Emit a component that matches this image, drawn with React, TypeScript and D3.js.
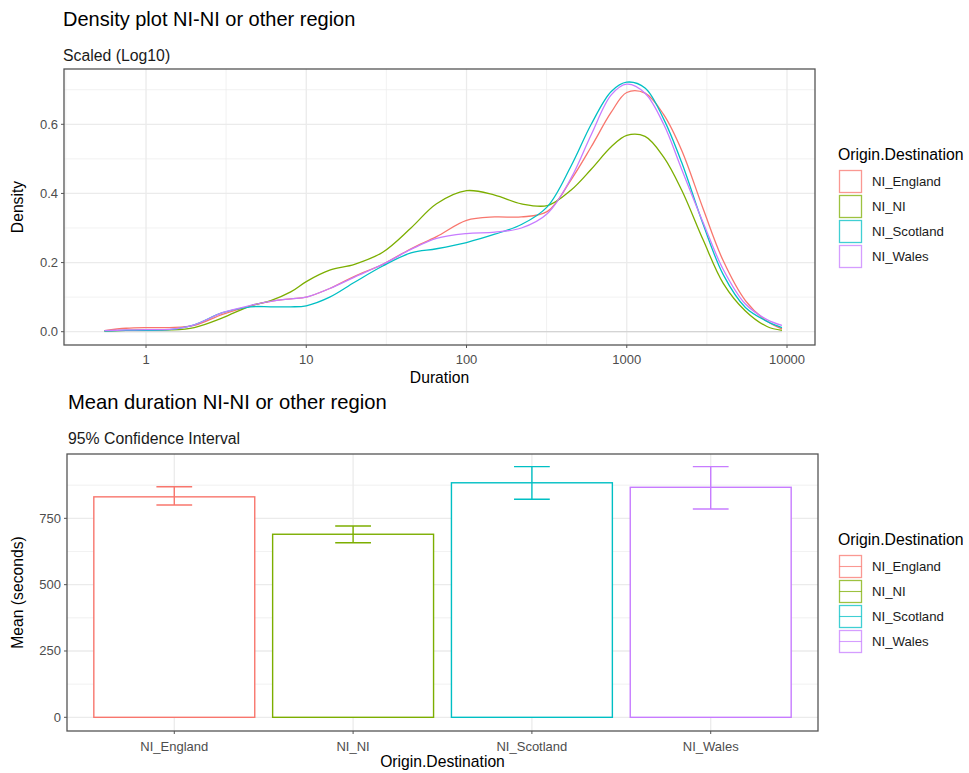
import * as d3 from "d3";

// series and categories
const origins = ["NI_England", "NI_NI", "NI_Scotland", "NI_Wales"];
const colors = ["#F8766D", "#7CAE00", "#00BFC4", "#C77CFF"];

// density curves (x = duration in seconds, log scale)
const durations = [0.55, 0.75, 1, 1.4, 2, 3, 4.5, 6, 8, 10, 14, 20, 30, 45, 65, 100, 150, 220, 320, 450, 600, 800, 1000, 1300, 1700, 2200, 3000, 4000, 5500, 7500, 9300];
const densityEngland = [0.003, 0.01, 0.012, 0.012, 0.018, 0.05, 0.075, 0.088, 0.095, 0.1, 0.125, 0.16, 0.195, 0.24, 0.275, 0.322, 0.332, 0.332, 0.348, 0.44, 0.535, 0.635, 0.692, 0.69, 0.628, 0.525, 0.355, 0.205, 0.09, 0.03, 0.008];
const densityNI = [0.002, 0.004, 0.005, 0.005, 0.012, 0.04, 0.075, 0.09, 0.115, 0.145, 0.178, 0.195, 0.23, 0.3, 0.37, 0.408, 0.395, 0.37, 0.365, 0.41, 0.47, 0.535, 0.568, 0.565, 0.505, 0.41, 0.265, 0.14, 0.06, 0.015, 0.004];
const densityScotland = [0.002, 0.004, 0.004, 0.006, 0.02, 0.055, 0.072, 0.072, 0.072, 0.075, 0.1, 0.143, 0.19, 0.228, 0.24, 0.258, 0.282, 0.31, 0.362, 0.48, 0.6, 0.695, 0.722, 0.705, 0.615, 0.49, 0.31, 0.165, 0.07, 0.03, 0.012];
const densityWales = [0.003, 0.005, 0.006, 0.007, 0.02, 0.055, 0.076, 0.088, 0.095, 0.1, 0.125, 0.158, 0.195, 0.238, 0.27, 0.284, 0.288, 0.3, 0.342, 0.445, 0.57, 0.685, 0.716, 0.69, 0.6, 0.47, 0.315, 0.18, 0.08, 0.035, 0.018];
const densities = [densityEngland, densityNI, densityScotland, densityWales];

// mean duration with 95% CI
const meanSeconds = [831, 690, 884, 867];
const ciLower = [800, 658, 822, 785];
const ciUpper = [869, 721, 945, 945];

const durationTicks = [1, 10, 100, 1000, 10000];
const durationMinor = [0.316, 3.16, 31.6, 316, 3162];
const densityTicks = [0, 0.2, 0.4, 0.6];
const densityMinor = [0.1, 0.3, 0.5, 0.7];
const meanTicks = [0, 250, 500, 750];
const meanMinor = [125, 375, 625, 875];

const font = "'Liberation Sans', Arial, sans-serif";
const gridColor = "#ebebeb";
const tickText = "#4d4d4d";

// top panel geometry
const top1 = { left: 64, right: 815, top: 69, bottom: 345 };
// bottom panel geometry
const top2 = { left: 67, right: 818, top: 454, bottom: 731 };

const Legend = ({ x, y, withLine }: { x: number; y: number; withLine: boolean }) => (
  <g transform={`translate(${x},${y})`}>
    <text x={0} y={0} fontSize={15.8} fill="#000">Origin.Destination</text>
    {origins.map((o, i) => (
      <g key={o} transform={`translate(1,${10 + i * 25})`}>
        <rect x={0.5} y={0.5} width={22} height={22} fill="#fff" stroke={colors[i]} strokeWidth={1.3} strokeOpacity={0.75} />
        {withLine && <line x1={0.5} x2={22.5} y1={11.5} y2={11.5} stroke={colors[i]} strokeWidth={1.1} strokeOpacity={0.75} />}
        <text x={33} y={16} fontSize={13.2} fill="#1a1a1a">{o}</text>
      </g>
    ))}
  </g>
);

const DensityPlot = () => {
  const x = d3.scaleLog().domain([0.3077, 14950]).range([top1.left, top1.right]);
  const y = d3.scaleLinear().domain([-0.0385, 0.76]).range([top1.bottom, top1.top]);
  const line = d3
    .line<number>()
    .x((_, i) => x(durations[i]))
    .y((d) => y(d))
    .curve(d3.curveCatmullRom.alpha(0.5));
  const x0 = x(durations[0]);
  const x1 = x(durations[durations.length - 1]);

  return (
    <g>
      <text x={63} y={26} fontSize={20} fill="#000">Density plot NI-NI or other region</text>
      <text x={63} y={61} fontSize={15.8} fill="#1a1a1a">Scaled (Log10)</text>
      {/* grid */}
      {densityMinor.map((t) => (
        <line key={"ym" + t} x1={top1.left} x2={top1.right} y1={y(t)} y2={y(t)} stroke={gridColor} strokeWidth={0.7} />
      ))}
      {durationMinor.map((t) => (
        <line key={"xm" + t} x1={x(t)} x2={x(t)} y1={top1.top} y2={top1.bottom} stroke={gridColor} strokeWidth={0.7} />
      ))}
      {densityTicks.map((t) => (
        <line key={"y" + t} x1={top1.left} x2={top1.right} y1={y(t)} y2={y(t)} stroke={gridColor} strokeWidth={1.3} />
      ))}
      {durationTicks.map((t) => (
        <line key={"x" + t} x1={x(t)} x2={x(t)} y1={top1.top} y2={top1.bottom} stroke={gridColor} strokeWidth={1.3} />
      ))}
      {/* baseline of the density outlines */}
      <line x1={x0} x2={x1} y1={y(0)} y2={y(0)} stroke="#d4d4d4" strokeWidth={1.3} />
      {densities.map((d, i) => (
        <path key={origins[i]} d={line(d) ?? ""} fill="none" stroke={colors[i]} strokeWidth={1.3} />
      ))}
      <rect x={top1.left} y={top1.top} width={top1.right - top1.left} height={top1.bottom - top1.top} fill="none" stroke="#555" strokeWidth={1.3} />
      {/* axes */}
      {durationTicks.map((t) => (
        <g key={"xt" + t}>
          <line x1={x(t)} x2={x(t)} y1={top1.bottom} y2={top1.bottom + 3} stroke="#555" />
          <text x={x(t)} y={364} fontSize={13} fill={tickText} textAnchor="middle">{d3.format("d")(t)}</text>
        </g>
      ))}
      {densityTicks.map((t) => (
        <g key={"yt" + t}>
          <line x1={top1.left - 3} x2={top1.left} y1={y(t)} y2={y(t)} stroke="#555" />
          <text x={top1.left - 6} y={y(t) + 4.5} fontSize={13} fill={tickText} textAnchor="end">{d3.format(".1f")(t)}</text>
        </g>
      ))}
      <text x={(top1.left + top1.right) / 2} y={383} fontSize={15.7} textAnchor="middle" fill="#000">Duration</text>
      <text transform={`translate(23,${(top1.top + top1.bottom) / 2}) rotate(-90)`} fontSize={15.7} textAnchor="middle" fill="#000">Density</text>
    </g>
  );
};

const MeanPlot = () => {
  const x = d3.scaleBand().domain(origins).range([top2.left, top2.right]).paddingInner(0).paddingOuter(0.1);
  const y = d3.scaleLinear().domain([-51.6, 992.5]).range([top2.bottom, top2.top]);
  const step = x.step();
  const barW = step * 0.9;
  const capW = step * 0.2;

  return (
    <g>
      <text x={68} y={409} fontSize={20.2} fill="#000">Mean duration NI-NI or other region</text>
      <text x={68} y={444} fontSize={15.8} fill="#1a1a1a">95% Confidence Interval</text>
      {meanMinor.map((t) => (
        <line key={"ym" + t} x1={top2.left} x2={top2.right} y1={y(t)} y2={y(t)} stroke={gridColor} strokeWidth={0.7} />
      ))}
      {meanTicks.map((t) => (
        <line key={"y" + t} x1={top2.left} x2={top2.right} y1={y(t)} y2={y(t)} stroke={gridColor} strokeWidth={1.3} />
      ))}
      {origins.map((o) => {
        const cx = (x(o) ?? 0) + x.bandwidth() / 2;
        return <line key={"xg" + o} x1={cx} x2={cx} y1={top2.top} y2={top2.bottom} stroke={gridColor} strokeWidth={1.3} />;
      })}
      {origins.map((o, i) => {
        const cx = (x(o) ?? 0) + x.bandwidth() / 2;
        return (
          <g key={o}>
            <rect x={cx - barW / 2} y={y(meanSeconds[i])} width={barW} height={y(0) - y(meanSeconds[i])} fill="#fff" stroke={colors[i]} strokeWidth={1.4} />
            <line x1={cx} x2={cx} y1={y(ciUpper[i])} y2={y(ciLower[i])} stroke={colors[i]} strokeWidth={1.4} />
            <line x1={cx - capW / 2} x2={cx + capW / 2} y1={y(ciUpper[i])} y2={y(ciUpper[i])} stroke={colors[i]} strokeWidth={1.4} />
            <line x1={cx - capW / 2} x2={cx + capW / 2} y1={y(ciLower[i])} y2={y(ciLower[i])} stroke={colors[i]} strokeWidth={1.4} />
          </g>
        );
      })}
      <rect x={top2.left} y={top2.top} width={top2.right - top2.left} height={top2.bottom - top2.top} fill="none" stroke="#555" strokeWidth={1.3} />
      {origins.map((o) => {
        const cx = (x(o) ?? 0) + x.bandwidth() / 2;
        return (
          <g key={"xt" + o}>
            <line x1={cx} x2={cx} y1={top2.bottom} y2={top2.bottom + 3} stroke="#555" />
            <text x={cx} y={751} fontSize={13} fill={tickText} textAnchor="middle">{o}</text>
          </g>
        );
      })}
      {meanTicks.map((t) => (
        <g key={"yt" + t}>
          <line x1={top2.left - 3} x2={top2.left} y1={y(t)} y2={y(t)} stroke="#555" />
          <text x={top2.left - 6} y={y(t) + 4.5} fontSize={13} fill={tickText} textAnchor="end">{t}</text>
        </g>
      ))}
      <text x={(top2.left + top2.right) / 2} y={767} fontSize={15.7} textAnchor="middle" fill="#000">Origin.Destination</text>
      <text transform={`translate(23,${(top2.top + top2.bottom) / 2}) rotate(-90)`} fontSize={15.7} textAnchor="middle" fill="#000">Mean (seconds)</text>
    </g>
  );
};

export default function App() {
  return (
    <svg width={969} height={773} style={{ position: "absolute", left: 0, top: 0, fontFamily: font }}>
      <rect width={969} height={773} fill="#fff" />
      <DensityPlot />
      <Legend x={838} y={160} withLine={false} />
      <MeanPlot />
      <Legend x={838} y={545} withLine={true} />
    </svg>
  );
}
